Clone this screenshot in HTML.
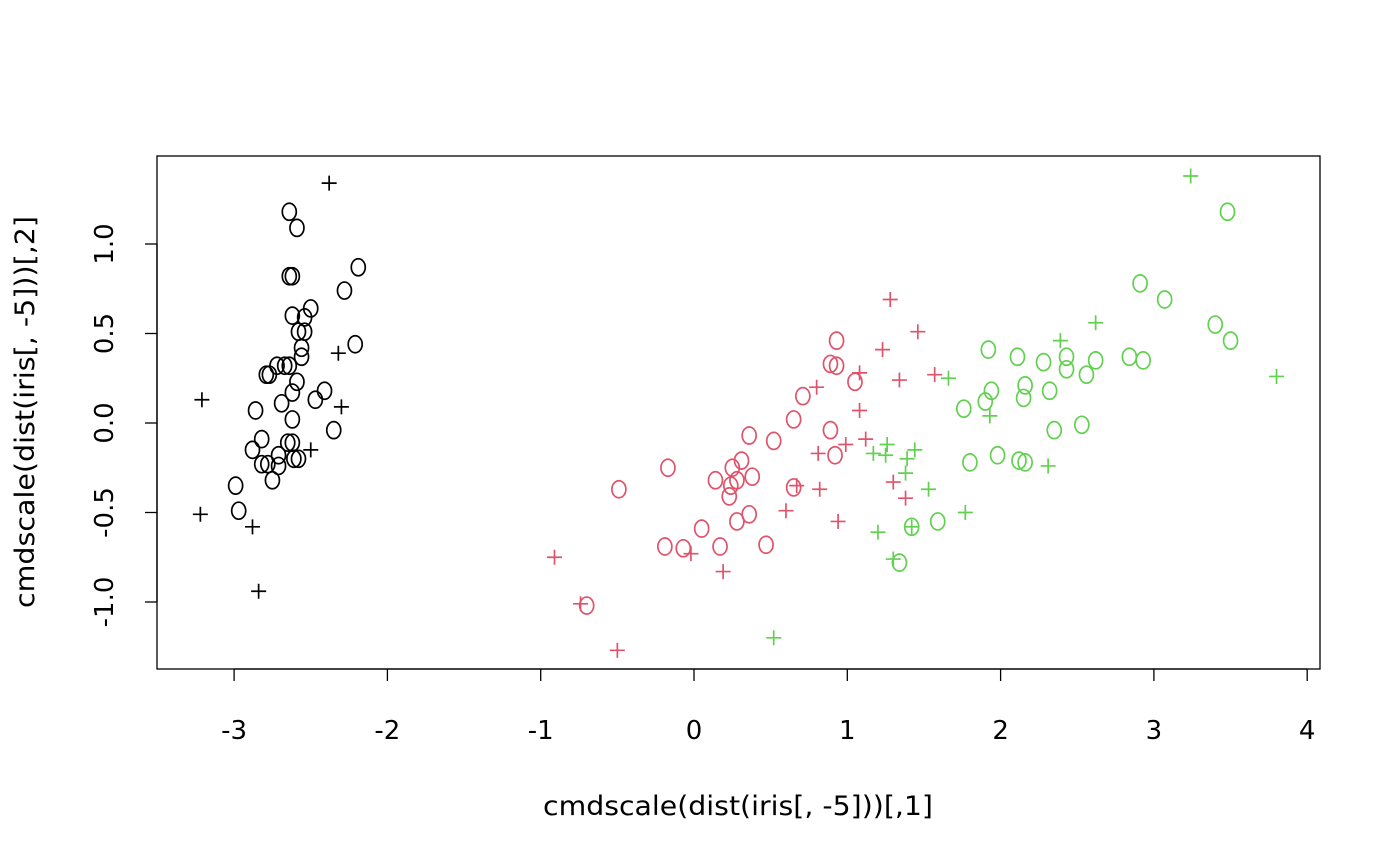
<!DOCTYPE html>
<html><head><meta charset="utf-8"><style>
html,body{margin:0;padding:0;background:#fff;width:1400px;height:866px;overflow:hidden}
text{font-family:"DejaVu Sans","Liberation Sans",sans-serif}
</style></head><body>
<svg id="chart" width="1400" height="866" xmlns="http://www.w3.org/2000/svg">
<rect x="157" y="156" width="1163" height="513" fill="none" stroke="#000" stroke-width="1.3"/>
<g id="axes"></g>
<g id="points"></g>
<text x="738" y="815" font-size="27" text-anchor="middle" textLength="390" lengthAdjust="spacingAndGlyphs">cmdscale(dist(iris[, -5]))[,1]</text>
<text transform="translate(34,412) rotate(-90)" font-size="27" text-anchor="middle" textLength="392" lengthAdjust="spacingAndGlyphs">cmdscale(dist(iris[, -5]))[,2]</text>
</svg>
<script>
const xTicks=[-3,-2,-1,0,1,2,3,4];
const yTicks=[-1.0,-0.5,0.0,0.5,1.0];
const setosaO=[[-2.64,1.18],[-2.59,1.09],[-2.64,0.82],[-2.62,0.82],[-2.19,0.87],[-2.28,0.74],[-2.50,0.64],[-2.54,0.59],[-2.62,0.60],[-2.58,0.51],[-2.54,0.51],[-2.21,0.44],[-2.56,0.42],[-2.56,0.37],[-2.72,0.32],[-2.67,0.32],[-2.64,0.32],[-2.79,0.27],[-2.77,0.27],[-2.59,0.23],[-2.41,0.18],[-2.62,0.17],[-2.47,0.13],[-2.69,0.11],[-2.86,0.07],[-2.35,-0.04],[-2.62,0.02],[-2.82,-0.09],[-2.88,-0.15],[-2.65,-0.11],[-2.62,-0.11],[-2.71,-0.18],[-2.61,-0.20],[-2.58,-0.20],[-2.82,-0.23],[-2.78,-0.23],[-2.71,-0.24],[-2.75,-0.32],[-2.99,-0.35],[-2.97,-0.49]];
const setosaP=[[-2.38,1.34],[-2.32,0.39],[-2.30,0.09],[-3.21,0.13],[-2.50,-0.15],[-3.22,-0.51],[-2.88,-0.58],[-2.84,-0.94]];
const versiO=[[0.93,0.46],[0.89,0.33],[0.93,0.32],[1.05,0.23],[0.71,0.15],[0.65,0.02],[0.36,-0.07],[0.52,-0.10],[0.89,-0.04],[0.92,-0.18],[-0.17,-0.25],[0.31,-0.21],[0.38,-0.30],[0.14,-0.32],[0.24,-0.35],[0.28,-0.32],[0.23,-0.41],[0.36,-0.51],[-0.49,-0.37],[0.05,-0.59],[0.28,-0.55],[0.47,-0.68],[-0.19,-0.69],[-0.07,-0.70],[0.17,-0.69],[0.65,-0.36],[-0.70,-1.02],[0.25,-0.25]];
const versiP=[[1.28,0.69],[1.46,0.51],[1.23,0.41],[1.08,0.28],[1.57,0.27],[1.34,0.24],[0.80,0.20],[1.08,0.07],[1.12,-0.09],[0.99,-0.12],[0.81,-0.17],[0.67,-0.35],[1.30,-0.33],[1.38,-0.42],[0.82,-0.37],[0.60,-0.49],[0.94,-0.55],[0.19,-0.83],[-0.91,-0.75],[-0.74,-1.01],[-0.50,-1.27],[-0.02,-0.73]];
const virgO=[[3.48,1.18],[2.91,0.78],[3.07,0.69],[3.40,0.55],[3.50,0.46],[1.92,0.41],[2.11,0.37],[2.28,0.34],[2.43,0.37],[2.62,0.35],[2.84,0.37],[2.93,0.35],[2.56,0.27],[2.43,0.30],[2.16,0.21],[1.94,0.18],[2.32,0.18],[2.15,0.14],[1.76,0.08],[1.90,0.12],[2.35,-0.04],[2.53,-0.01],[1.98,-0.18],[1.80,-0.22],[2.12,-0.21],[2.16,-0.22],[1.59,-0.55],[1.42,-0.58],[1.34,-0.78]];
const virgP=[[3.24,1.38],[2.62,0.56],[2.39,0.46],[3.80,0.26],[1.66,0.25],[1.93,0.04],[1.26,-0.12],[1.44,-0.15],[1.17,-0.17],[1.39,-0.20],[1.25,-0.18],[2.31,-0.24],[1.38,-0.28],[1.53,-0.37],[1.77,-0.50],[1.20,-0.61],[1.42,-0.58],[1.30,-0.76],[0.52,-1.20]];
const X=v=>694+v*153.3, Y=v=>423-v*179;
const NS="http://www.w3.org/2000/svg";
function mk(tag,attrs,parent){const e=document.createElementNS(NS,tag);for(const k in attrs)e.setAttribute(k,attrs[k]);parent.appendChild(e);return e;}
const ax=document.getElementById('axes');
const xl=mk('line',{x1:X(-3),x2:X(4),y1:669,y2:669,stroke:'#000','stroke-width':1.3},ax);


xTicks.forEach(t=>{
  const l=mk('line',{x1:X(t),x2:X(t),y1:669,y2:681,stroke:'#000','stroke-width':1.3},ax);
  
  
  const tx=mk('text',{x:X(t),y:739,'font-size':26,'text-anchor':'middle'},ax);
  tx.textContent=String(t);
  
  
});
const yl=mk('line',{x1:157,x2:157,y1:Y(-1),y2:Y(1),stroke:'#000','stroke-width':1.3},ax);


yTicks.forEach(t=>{
  const l=mk('line',{x1:145,x2:157,y1:Y(t),y2:Y(t),stroke:'#000','stroke-width':1.3},ax);
  
  
  const tx=mk('text',{'font-size':26,'text-anchor':'middle',transform:`translate(113,${Y(t)}) rotate(-90)`},ax);
  tx.textContent=t.toFixed(1);
  
  
});
const pg=document.getElementById('points');
function drawO(arr,col,name){arr.forEach(p=>{
  const e=mk('ellipse',{cx:X(p[0]),cy:Y(p[1]),rx:7,ry:8.5,fill:'none',stroke:col,'stroke-width':1.7},pg);
  
  
});}
function drawP(arr,col,name){arr.forEach(p=>{
  const cx=X(p[0]),cy=Y(p[1]);
  const e=mk('path',{d:`M${cx-7.5},${cy}H${cx+7.5}M${cx},${cy-7.5}V${cy+7.5}`,stroke:col,'stroke-width':1.7,fill:'none'},pg);
  
  
});}
drawO(setosaO,'#000','setosa-o-point');drawP(setosaP,'#000','setosa-plus-point');
drawO(versiO,'#DF536B','versicolor-o-point');drawP(versiP,'#DF536B','versicolor-plus-point');
drawO(virgO,'#61D04F','virginica-o-point');drawP(virgP,'#61D04F','virginica-plus-point');
</script>
</body></html>
